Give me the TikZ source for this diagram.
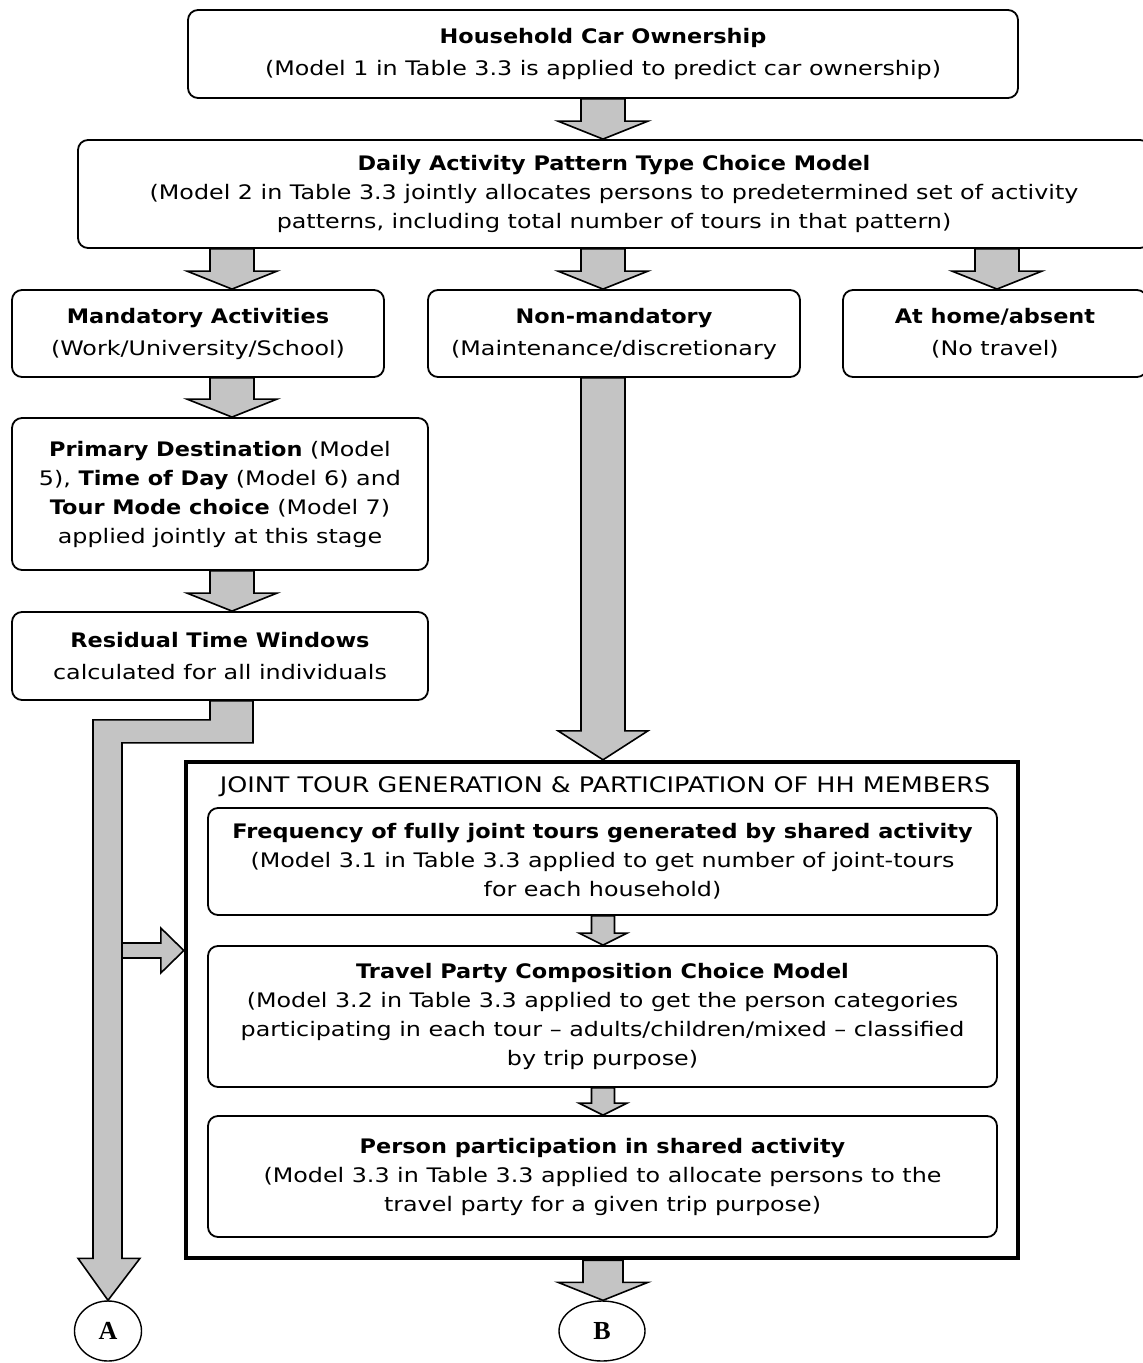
\documentclass[tikz,border=0pt]{standalone}
\usepackage{fontspec}
\setmainfont{DejaVu Sans}[FakeStretch=1.19, BoldFeatures={FakeStretch=1.12}]
\newfontfamily\labelfont{Liberation Serif}
\usepackage{tikz}
\usetikzlibrary{positioning}
\usetikzlibrary{calc,shapes.geometric}
\usepackage{xcolor}
\definecolor{arrowgray}{RGB}{196,196,196}

% gray block arrow going down from one box to the next
\newcommand{\blockdown}[6]{%
  \draw[blockarrow] let \p1=(#1.south), \p2=(#2.north), \p3=(#3,0) in
    (\x3-#4,\y1) -- (\x3+#4,\y1) -- (\x3+#4,\y2+#6) -- (\x3+#5,\y2+#6)
    -- (\x3,\y2) -- (\x3-#5,\y2+#6) -- (\x3-#4,\y2+#6) -- cycle;}

\begin{document}
\begin{tikzpicture}
[x=0.5pt, y=0.5pt,
font=\fontsize{10}{14.5}\selectfont,
% The stage style is used for each rounded model box
stage/.style={draw, line width=0.9pt, rounded corners=5pt, fill=white, align=center, inner sep=0pt},
% The loose style gives the wider line spacing of the short boxes
loose/.style={font=\fontsize{10}{16}\selectfont},
% The frame style is used for the joint tour block
frame/.style={draw, line width=2.2pt, inner sep=0pt},
blockarrow/.style={draw, line width=0.8pt, fill=arrowgray, line join=miter},
% The endpoint style is used for the connectors A and B
endpoint/.style={draw, ellipse, line width=0.7pt, inner sep=0pt, font=\labelfont\bfseries\fontsize{13}{13}\selectfont}
]
\clip (0,0) rectangle (1143,-1363);
% Draw stages
\node[stage, loose, minimum width=415pt, minimum height=44pt] (own) at (603,-54)
  {\textbf{Household Car Ownership}\\(Model 1 in Table 3.3 is applied to predict car ownership)};
\node[stage, minimum width=536pt, minimum height=54pt] (daily) at (614,-194)
  {\textbf{Daily Activity Pattern Type Choice Model}\\(Model 2 in Table 3.3 jointly allocates persons to predetermined set of activity\\patterns, including total number of tours in that pattern)};
\node[stage, loose, minimum width=186pt, minimum height=43.5pt] (mand) at (198,-333.5)
  {\textbf{Mandatory Activities}\\(Work/University/School)};
\node[stage, loose, minimum width=186pt, minimum height=43.5pt] (nonmand) at (614,-333.5)
  {\textbf{Non-mandatory}\\(Maintenance/discretionary};
\node[stage, loose, minimum width=152pt, minimum height=43.5pt] (home) at (995,-333.5)
  {\textbf{At home/absent}\\(No travel)};
\node[stage, minimum width=208pt, minimum height=76pt] (prim) at (220,-494)
  {\textbf{Primary Destination} (Model\\5), \textbf{Time of Day} (Model 6) and\\\textbf{Tour Mode choice} (Model 7)\\applied jointly at this stage};
\node[stage, loose, minimum width=208pt, minimum height=44pt] (resid) at (220,-656)
  {\textbf{Residual Time Windows}\\calculated for all individuals};
% Draw joint tour block
\node[frame, minimum width=416pt, minimum height=248pt] (joint) at (602,-1010) {};
\node[font=\fontsize{10.7}{13}\selectfont] (jointtitle) at (605,-787) {JOINT TOUR GENERATION \& PARTICIPATION OF HH MEMBERS};
\node[stage, minimum width=394.5pt, minimum height=53.5pt] (freq) at (602.5,-861.5)
  {\textbf{Frequency of fully joint tours generated by shared activity}\\(Model 3.1 in Table 3.3 applied to get number of joint-tours\\for each household)};
\node[stage, minimum width=394.5pt, minimum height=70.5pt] (party) at (602.5,-1016.5)
  {\textbf{Travel Party Composition Choice Model}\\(Model 3.2 in Table 3.3 applied to get the person categories\\participating in each tour -- adults/children/mixed -- classified\\by trip purpose)};
\node[stage, minimum width=394.5pt, minimum height=60.5pt] (person) at (602.5,-1176.5)
  {\textbf{Person participation in shared activity}\\(Model 3.3 in Table 3.3 applied to allocate persons to the\\travel party for a given trip purpose)};
\node[endpoint, minimum width=33.5pt, minimum height=30pt] (A) at (108,-1331) {A};
\node[endpoint, minimum width=43pt, minimum height=30pt] (B) at (602,-1331) {B};
% Draw block arrows
\blockdown{own}{daily}{603}{11pt}{22.5pt}{9pt}
\blockdown{daily}{mand}{232}{11pt}{22.5pt}{9pt}
\blockdown{daily}{nonmand}{603}{11pt}{22.5pt}{9pt}
\blockdown{daily}{home}{997}{11pt}{22.5pt}{9pt}
\blockdown{mand}{prim}{232}{11pt}{22.5pt}{9pt}
\blockdown{prim}{resid}{232}{11pt}{22.5pt}{9pt}
\blockdown{nonmand}{joint}{603}{11pt}{22.5pt}{14.5pt}
\blockdown{freq}{party}{603}{5.75pt}{12pt}{6pt}
\blockdown{party}{person}{603}{5.75pt}{12pt}{6pt}
\blockdown{joint}{B}{603}{10pt}{22.5pt}{9pt}
% Bent arrow from the time windows down to A
\draw[blockarrow] let \p1=(resid.south), \p2=(A.north) in
  (105pt,\y1) -- (126.5pt,\y1) -- (126.5pt,\y1-21pt) -- (61pt,\y1-21pt) -- (61pt,\y2+21pt)
  -- (70pt,\y2+21pt) -- (\x2,\y2) -- (39pt,\y2+21pt) -- (46.5pt,\y2+21pt)
  -- (46.5pt,\y1-9.5pt) -- (105pt,\y1-9.5pt) -- cycle;
\coordinate (sidein) at (122,-950.5);
\draw[blockarrow] let \p1=(sidein), \p2=(joint.west |- sidein) in
  (\x1,\y1+3.75pt) -- (\x2-11.5pt,\y1+3.75pt) -- (\x2-11.5pt,\y1+11.25pt) -- (\x2,\y1)
  -- (\x2-11.5pt,\y1-11.25pt) -- (\x2-11.5pt,\y1-3.75pt) -- (\x1,\y1-3.75pt) -- cycle;
\end{tikzpicture}
\end{document}
